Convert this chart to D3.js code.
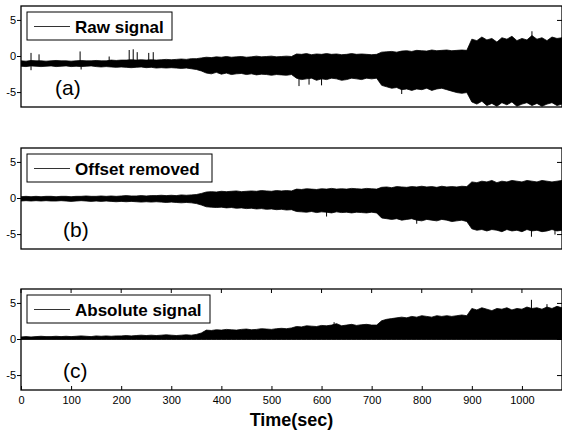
<!DOCTYPE html>
<html>
  <head>
    <script src="https://d3js.org/d3.v7.min.js"></script>
    <style>
      html,
      body {
        margin: 0;
        background: #fff;
        font-family: "Liberation Sans", Arial, Helvetica, sans-serif;
      }
    </style>
  </head>
  <body>
    <div id="chart"></div>
    <script>
      // envelope of each trace, one value every sampleStep seconds (0..1080)
      const sampleStep = 10;

      const rawUpper = [
        -0.6, -0.65, -0.55, -0.6, -0.6, -0.65, -0.6, -0.55, -0.6, -0.6, -0.65, -0.6, -0.55, -0.6, -0.6, -0.55, -0.6, -0.6, -0.5, -0.55, -0.5, -0.5, -0.45, -0.5, -0.45, -0.5, -0.45, -0.5, -0.45, -0.4, -0.45, -0.4, -0.35, -0.4, -0.3, -0.3, -0.2,
        -0.1, -0.15, -0.05, -0.1, 0, -0.1, -0.05, 0, -0.1, -0.05, 0.05, -0.05, 0, 0.05, -0.05, 0, 0.05, 0,
        0.35, 0.3, 0.4, 0.25, 0.35, 0.3, 0.4, 0.3, 0.35, 0.25, 0.3, 0.4, 0.3, 0.35, 0.3, 0.25, 0.3,
        0.6, 0.65, 0.7, 0.6, 0.75, 0.8, 0.7, 0.85, 0.8, 0.75, 0.9, 0.8, 0.85, 0.9, 0.8, 0.85, 0.9, 0.85,
        2.4, 2.2, 2.7, 2.3, 2.5, 2.0, 2.6, 2.4, 2.8, 2.2, 2.5, 2.3, 2.9, 2.4, 2.6, 2.2, 2.7, 2.5, 2.6,
      ];
      const rawLower = [
        -1.35, -1.4, -1.3, -1.35, -1.4, -1.35, -1.3, -1.4, -1.35, -1.3, -1.4, -1.35, -1.4, -1.35, -1.3, -1.4, -1.45, -1.4, -1.45, -1.5, -1.45, -1.5, -1.55, -1.5, -1.45, -1.55, -1.5, -1.6, -1.55, -1.6, -1.55, -1.6, -1.65, -1.6, -1.7, -1.8, -2.0,
        -2.3, -2.4, -2.2, -2.45, -2.3, -2.5, -2.4, -2.35, -2.5, -2.4, -2.55, -2.45, -2.5, -2.6, -2.5, -2.55, -2.6, -2.5,
        -3.0, -3.2, -3.1, -3.0, -3.3, -3.1, -3.2, -3.0, -3.1, -3.3, -3.2, -3.0, -3.1, -3.2, -3.0, -3.1, -3.0,
        -4.0, -4.2, -4.4, -4.3, -4.6, -4.5, -4.7, -4.5, -4.6, -4.4, -4.7, -4.5, -4.4, -4.6, -4.8, -5.0, -5.1, -5.0,
        -6.3, -6.6, -6.2, -6.8, -6.5, -6.9, -6.4, -6.7, -6.3, -6.9, -6.6, -6.4, -6.8, -6.5, -6.9, -6.6, -6.4, -6.8, -6.6,
      ];
      const rawSpikes = [
        [20, 0.5], [20, -1.9], [36, 0.3], [118, 0.7], [120, -1.8], [176, 0.0],
        [216, 0.9], [224, 1.0], [232, 0.6], [255, 0.5], [264, 0.6],
        [555, -4.1], [575, -3.9], [600, -4.0], [760, -5.2], [1020, 3.5],
      ];

      const offUpper = [
        0.25, 0.3, 0.25, 0.3, 0.25, 0.3, 0.3, 0.25, 0.3, 0.3, 0.25, 0.3, 0.3, 0.35, 0.3, 0.3, 0.35, 0.3, 0.35, 0.3, 0.35, 0.4, 0.35, 0.35, 0.4, 0.35, 0.4, 0.4, 0.45, 0.4, 0.45, 0.4, 0.5, 0.45, 0.5, 0.55, 0.7,
        0.9, 0.95, 0.9, 1.0, 0.95, 1.0, 1.05, 0.95, 1.0, 1.05, 1.0, 1.1, 1.05, 1.0, 1.1, 1.05, 1.1, 1.05,
        1.3, 1.25, 1.35, 1.3, 1.25, 1.35, 1.3, 1.4, 1.3, 1.35, 1.3, 1.4, 1.35, 1.3, 1.4, 1.35, 1.3,
        1.55, 1.6, 1.5, 1.65, 1.6, 1.55, 1.65, 1.6, 1.7, 1.6, 1.65, 1.55, 1.7, 1.6, 1.65, 1.6, 1.7, 1.65,
        2.3, 2.2, 2.4, 2.3, 2.5, 2.2, 2.4, 2.3, 2.5, 2.4, 2.3, 2.5, 2.4, 2.3, 2.5, 2.4, 2.3, 2.4, 2.5,
      ];
      const offLower = [
        -0.35, -0.3, -0.35, -0.3, -0.35, -0.3, -0.35, -0.35, -0.3, -0.35, -0.4, -0.35, -0.3, -0.35, -0.4, -0.35, -0.4, -0.35, -0.4, -0.45, -0.4, -0.45, -0.4, -0.45, -0.5, -0.45, -0.5, -0.45, -0.5, -0.55, -0.5, -0.55, -0.6, -0.55, -0.6, -0.7, -0.9,
        -1.15, -1.2, -1.25, -1.2, -1.3, -1.25, -1.35, -1.3, -1.4, -1.35, -1.45, -1.4, -1.5, -1.45, -1.55, -1.5, -1.6, -1.55,
        -1.8, -1.85, -1.9, -1.8, -1.95, -1.85, -1.9, -2.0, -1.85, -1.95, -1.9, -2.0, -1.9, -1.95, -2.0, -1.9, -2.0,
        -2.7, -2.8, -2.9, -2.8, -3.0, -2.9, -2.8, -3.0, -3.1, -2.9, -3.0, -3.1, -2.9, -3.0, -3.2, -3.1, -3.0, -3.2,
        -4.2, -4.4, -4.3, -4.5, -4.3, -4.4, -4.6, -4.3, -4.5, -4.4, -4.6, -4.3, -4.5, -4.4, -4.6, -4.5, -4.3, -4.5, -4.4,
      ];
      const offSpikes = [[610, -2.5], [790, -3.5], [1019, -5.3], [1066, -5.0]];

      const absUpper = [
        0.35, 0.4, 0.35, 0.4, 0.45, 0.4, 0.4, 0.45, 0.4, 0.45, 0.4, 0.45, 0.5, 0.45, 0.4, 0.5, 0.45, 0.5, 0.45, 0.5, 0.5, 0.55, 0.5, 0.55, 0.6, 0.55, 0.6, 0.55, 0.6, 0.65, 0.6, 0.55, 0.6, 0.65, 0.6, 0.7, 0.9,
        1.3, 1.25, 1.35, 1.3, 1.4, 1.35, 1.3, 1.4, 1.45, 1.35, 1.4, 1.5, 1.45, 1.4, 1.5, 1.55, 1.5, 1.6,
        1.8, 1.75, 1.9, 1.85, 1.8, 1.95, 1.9, 2.0, 2.2, 1.9, 2.0, 2.1, 1.95, 2.05, 2.1, 2.0, 2.0,
        2.6, 2.8, 2.9, 3.0, 3.1, 3.0, 3.2, 3.1, 3.3, 3.2, 3.1, 3.3, 3.2, 3.3, 3.2, 3.3, 3.4, 3.3,
        4.3, 4.1, 4.4, 4.2, 4.0, 4.3, 4.2, 4.4, 4.1, 4.3, 4.2, 4.5, 4.3, 4.4, 4.2, 4.5, 4.3, 4.6, 4.4,
      ];
      const absLower = absUpper.map(() => 0);
      const absSpikes = [[625, 2.4], [1019, 5.5], [1050, 4.9]];

      const legendNames = ["Raw signal", "Offset removed", "Absolute signal"];
      const panelTags = ["(a)", "(b)", "(c)"];
      const xTicks = [0, 100, 200, 300, 400, 500, 600, 700, 800, 900, 1000];
      const yTicks = [-5, 0, 5];

      const panels = [
        { upper: rawUpper, lower: rawLower, spikes: rawSpikes, top: 6, tagX: 55, legendW: 145 },
        { upper: offUpper, lower: offLower, spikes: offSpikes, top: 148, tagX: 63, legendW: 185 },
        { upper: absUpper, lower: absLower, spikes: absSpikes, top: 289, tagX: 63, legendW: 183 },
      ];

      const width = 562;
      const height = 433;
      const left = 21;
      const right = 562;
      const panelH = 101;

      const svg = d3
        .select("#chart")
        .append("svg")
        .attr("width", width)
        .attr("height", height);

      const x = d3.scaleLinear().domain([0, 1080]).range([left, right]);

      panels.forEach((p, k) => {
        const y = d3
          .scaleLinear()
          .domain([-7, 7])
          .range([p.top + panelH, p.top]);

        const g = svg.append("g");

        g.append("clipPath")
          .attr("id", "clip" + k)
          .append("rect")
          .attr("x", left)
          .attr("y", p.top)
          .attr("width", right - left)
          .attr("height", panelH);

        const plot = g.append("g").attr("clip-path", `url(#clip${k})`);

        //signal envelope
        const area = d3
          .area()
          .x((d, i) => x(i * sampleStep))
          .y0((d, i) => y(p.lower[i]))
          .y1((d) => y(d));

        plot
          .append("path")
          .datum(p.upper)
          .attr("d", area)
          .attr("fill", "#000")
          .attr("stroke", "#000")
          .attr("stroke-width", 0.8);

        //isolated spikes
        plot
          .selectAll("line.spike")
          .data(p.spikes)
          .enter()
          .append("line")
          .attr("x1", (d) => x(d[0]))
          .attr("x2", (d) => x(d[0]))
          .attr("y1", (d) => {
            const i = Math.min(Math.floor(d[0] / sampleStep), p.upper.length - 1);
            return y((p.upper[i] + p.lower[i]) / 2);
          })
          .attr("y2", (d) => y(d[1]))
          .attr("stroke", "#000")
          .attr("stroke-width", 1);

        //frame
        g.append("rect")
          .attr("x", left)
          .attr("y", p.top)
          .attr("width", right - left)
          .attr("height", panelH)
          .attr("fill", "none")
          .attr("stroke", "#000")
          .attr("stroke-width", 1.3);

        //y ticks (outside on left, inside on right)
        g.selectAll("line.yl")
          .data(yTicks)
          .enter()
          .append("line")
          .attr("x1", left - 4)
          .attr("x2", left)
          .attr("y1", (d) => y(d))
          .attr("y2", (d) => y(d))
          .attr("stroke", "#000");
        g.selectAll("line.yr")
          .data(yTicks)
          .enter()
          .append("line")
          .attr("x1", right - 5)
          .attr("x2", right)
          .attr("y1", (d) => y(d))
          .attr("y2", (d) => y(d))
          .attr("stroke", "#000");
        g.selectAll("text.yt")
          .data(yTicks)
          .enter()
          .append("text")
          .attr("x", 16)
          .attr("y", (d) => y(d))
          .attr("dy", "0.35em")
          .attr("text-anchor", "end")
          .style("font-size", "11px")
          .text((d) => d);

        //legend
        const lg = g.append("g").attr("transform", `translate(27, ${p.top + 6})`);
        lg.append("rect")
          .attr("width", p.legendW)
          .attr("height", 28)
          .attr("fill", "#fff")
          .attr("stroke", "#000")
          .attr("stroke-width", 1);
        lg.append("line")
          .attr("x1", 7)
          .attr("x2", 43)
          .attr("y1", 14.5)
          .attr("y2", 14.5)
          .attr("stroke", "#333")
          .attr("stroke-width", 1);
        lg.append("text")
          .attr("x", 48)
          .attr("y", 20.5)
          .style("font-size", "17px")
          .style("font-weight", "bold")
          .text(legendNames[k]);

        //panel tag
        g.append("text")
          .attr("x", p.tagX)
          .attr("y", p.top + 89)
          .style("font-size", "21px")
          .text(panelTags[k]);

        //x ticks only on the bottom panel
        if (k === panels.length - 1) {
          const xAxis = d3
            .axisBottom(x)
            .tickValues(xTicks)
            .tickFormat(d3.format("d"))
            .tickSize(-4)
            .tickPadding(6);
          const ax = g
            .append("g")
            .attr("transform", `translate(0, ${p.top + panelH})`)
            .call(xAxis);
          ax.select(".domain").remove();
          ax.selectAll("text")
            .style("font-size", "11px")
            .style("font-family", "Liberation Sans, Arial, sans-serif");

          g.selectAll("line.xt")
            .data(xTicks)
            .enter()
            .append("line")
            .attr("x1", (d) => x(d))
            .attr("x2", (d) => x(d))
            .attr("y1", p.top)
            .attr("y2", p.top + 4)
            .attr("stroke", "#000");
        }
      });

      svg
        .append("text")
        .attr("x", (left + right) / 2)
        .attr("y", 426)
        .attr("text-anchor", "middle")
        .style("font-size", "18px")
        .style("font-weight", "bold")
        .text("Time(sec)");
    </script>
  </body>
</html>
